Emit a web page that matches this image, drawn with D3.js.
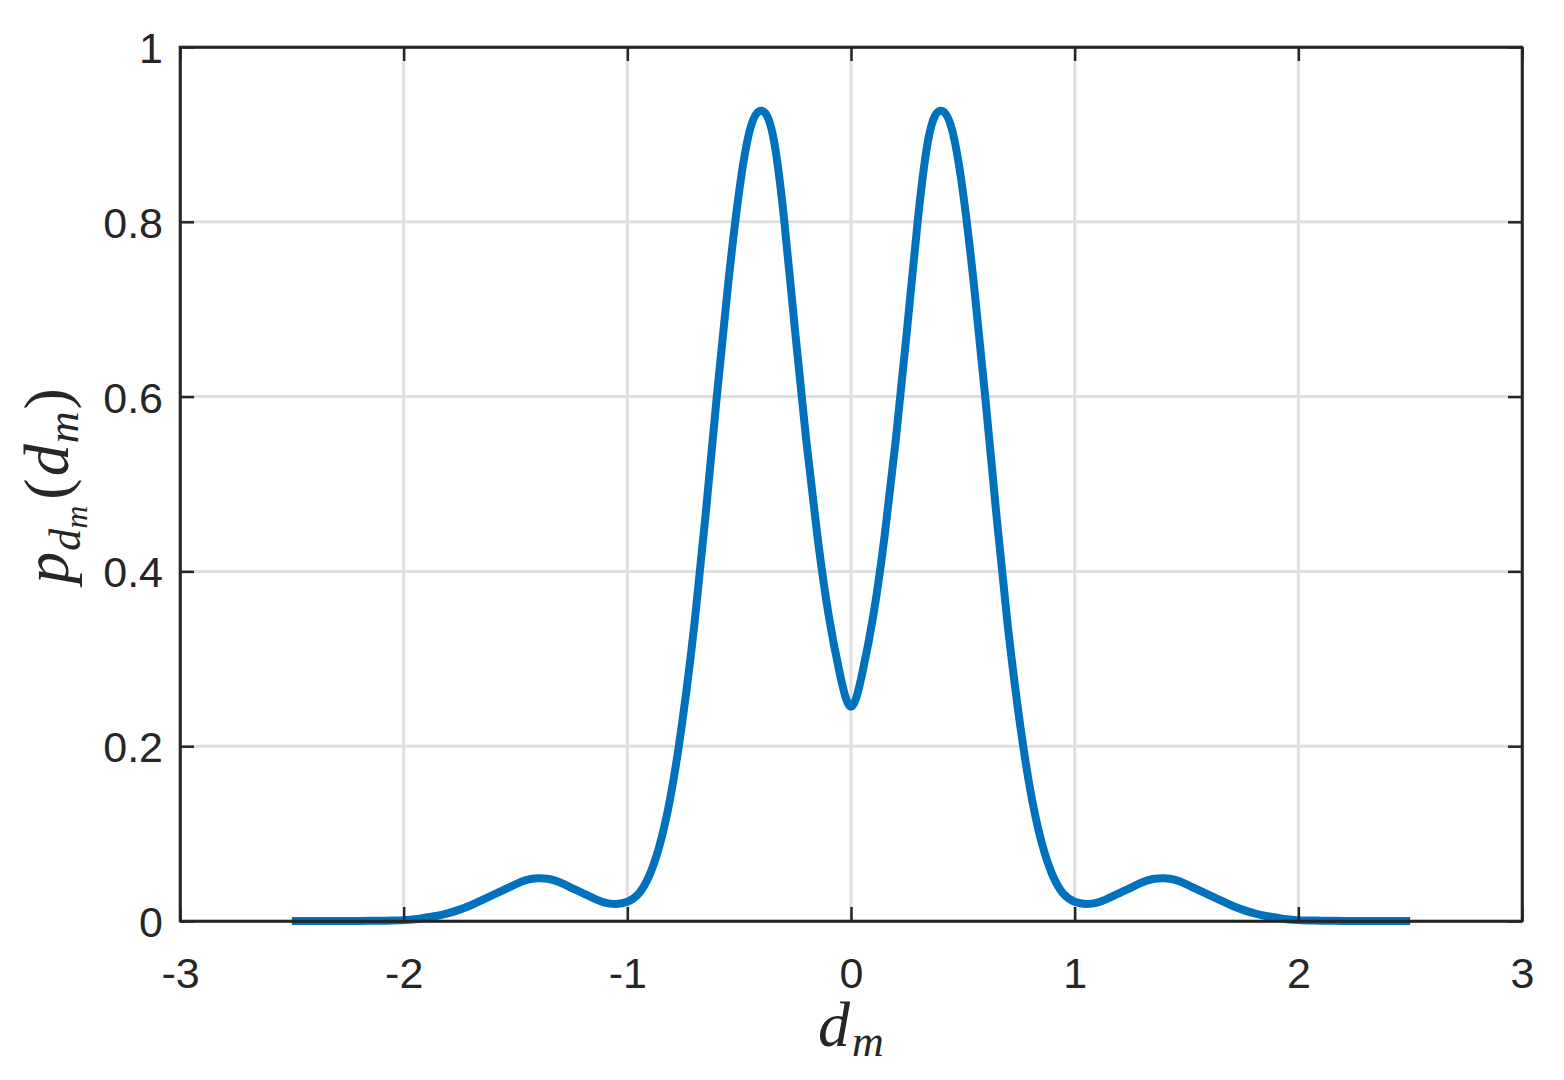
<!DOCTYPE html>
<html>
<head>
<meta charset="utf-8">
<script src="https://cdn.jsdelivr.net/npm/d3@7"></script>
<style>
  html, body { margin: 0; padding: 0; background: #ffffff; }
  svg { display: block; }
</style>
</head>
<body>
<svg id="chart" width="1564" height="1080"></svg>
<script>
// ---- data ----
const dmValues = [
  -2.5, -2.45, -2.4, -2.35, -2.3, -2.25, -2.2, -2.15, -2.1, -2.05,
  -2.0, -1.95, -1.9, -1.85, -1.8, -1.75, -1.7, -1.65, -1.6, -1.55,
  -1.5, -1.45, -1.4, -1.35, -1.3, -1.25, -1.2, -1.15, -1.1, -1.05,
  -1.0, -0.95, -0.9, -0.85, -0.8, -0.75, -0.7, -0.65, -0.6, -0.55,
  -0.5, -0.45, -0.4, -0.35, -0.3, -0.25, -0.2, -0.15, -0.1, -0.05,
  0,
  0.05, 0.1, 0.15, 0.2, 0.25, 0.3, 0.35, 0.4, 0.45, 0.5,
  0.55, 0.6, 0.65, 0.7, 0.75, 0.8, 0.85, 0.9, 0.95, 1.0,
  1.05, 1.1, 1.15, 1.2, 1.25, 1.3, 1.35, 1.4, 1.45, 1.5,
  1.55, 1.6, 1.65, 1.7, 1.75, 1.8, 1.85, 1.9, 1.95, 2.0,
  2.05, 2.1, 2.15, 2.2, 2.25, 2.3, 2.35, 2.4, 2.45, 2.5
];
const pdfValues = [
  0, 0, 0, 0, 0, 0, 0.0001, 0.0002, 0.0003, 0.0006,
  0.001, 0.002, 0.004, 0.006, 0.009, 0.013, 0.018, 0.024, 0.030, 0.036,
  0.042, 0.047, 0.049, 0.048, 0.044, 0.038, 0.032, 0.026, 0.021, 0.0195,
  0.022, 0.031, 0.053, 0.092, 0.152, 0.236, 0.340, 0.465, 0.600, 0.727,
  0.835, 0.907, 0.927, 0.900, 0.805, 0.675, 0.550, 0.440, 0.350, 0.283,
  0.245,
  0.283, 0.350, 0.440, 0.550, 0.675, 0.805, 0.900, 0.927, 0.907, 0.835,
  0.727, 0.600, 0.465, 0.340, 0.236, 0.152, 0.092, 0.053, 0.031, 0.022,
  0.0195, 0.021, 0.026, 0.032, 0.038, 0.044, 0.048, 0.049, 0.047, 0.042,
  0.036, 0.030, 0.024, 0.018, 0.013, 0.009, 0.006, 0.004, 0.002, 0.001,
  0.0006, 0.0003, 0.0002, 0.0001, 0, 0, 0, 0, 0, 0
];
const xTicks = [-3, -2, -1, 0, 1, 2, 3];
const xTickLabels = ["-3", "-2", "-1", "0", "1", "2", "3"];
const yTicks = [0, 0.2, 0.4, 0.6, 0.8, 1];
const yTickLabels = ["0", "0.2", "0.4", "0.6", "0.8", "1"];

// ---- layout ----
const plot = { left: 180, right: 1522, top: 47, bottom: 921 };
const svg = d3.select("#chart");
const axisColor = "#262626";

const x = d3.scaleLinear().domain([-3, 3]).range([plot.left, plot.right]);
const y = d3.scaleLinear().domain([0, 1]).range([plot.bottom, plot.top]);

// grid
const grid = svg.append("g");
grid.selectAll("line.gx").data(xTicks).join("line")
  .attr("x1", d => x(d)).attr("x2", d => x(d))
  .attr("y1", plot.top).attr("y2", plot.bottom)
  .attr("stroke", "#dfdfdf").attr("stroke-width", 3);
grid.selectAll("line.gy").data(yTicks).join("line")
  .attr("x1", plot.left).attr("x2", plot.right)
  .attr("y1", d => y(d)).attr("y2", d => y(d))
  .attr("stroke", "#dfdfdf").attr("stroke-width", 3);

// curve
const pts = dmValues.map((d, i) => [d, pdfValues[i]]);
const line = d3.line().x(d => x(d[0])).y(d => y(d[1])).curve(d3.curveNatural);
svg.append("path").datum(pts)
  .attr("d", line)
  .attr("fill", "none")
  .attr("stroke", "#0072BD")
  .attr("stroke-width", 8)
  .attr("stroke-linejoin", "round");

// axes (ticks inside, box on)
const tickLen = 14;
const fontTick = "'Liberation Sans', Arial, Helvetica, sans-serif";

const xAxisB = d3.axisBottom(x).tickValues(xTicks).tickSizeInner(-tickLen).tickSizeOuter(0)
  .tickFormat((d, i) => xTickLabels[i]);
const gxb = svg.append("g").attr("transform", `translate(0,${plot.bottom})`).call(xAxisB);

const xAxisT = d3.axisTop(x).tickValues(xTicks).tickSizeInner(-tickLen).tickSizeOuter(0).tickFormat("");
const gxt = svg.append("g").attr("transform", `translate(0,${plot.top})`).call(xAxisT);

const yAxisL = d3.axisLeft(y).tickValues(yTicks).tickSizeInner(-tickLen).tickSizeOuter(0)
  .tickFormat((d, i) => yTickLabels[i]);
const gyl = svg.append("g").attr("transform", `translate(${plot.left},0)`).call(yAxisL);

const yAxisR = d3.axisRight(y).tickValues(yTicks).tickSizeInner(-tickLen).tickSizeOuter(0).tickFormat("");
const gyr = svg.append("g").attr("transform", `translate(${plot.right},0)`).call(yAxisR);

[gxb, gxt, gyl, gyr].forEach(g => {
  g.select(".domain").attr("stroke", axisColor).attr("stroke-width", 2.5);
  g.selectAll(".tick line").attr("stroke", axisColor).attr("stroke-width", 2.5);
  g.selectAll(".tick text")
    .attr("fill", axisColor)
    .style("font-family", fontTick)
    .style("font-size", "43px");
});
gxb.selectAll(".tick text").attr("dy", "0.71em").attr("y", 36);
gyl.selectAll(".tick text").attr("dy", "0.36em").attr("x", -17);

// box
svg.append("rect")
  .attr("x", plot.left).attr("y", plot.top)
  .attr("width", plot.right - plot.left).attr("height", plot.bottom - plot.top)
  .attr("fill", "none").attr("stroke", axisColor).attr("stroke-width", 2.5);

// axis labels (math italic)
const fontMath = "'Liberation Serif', 'DejaVu Serif', serif";
const xl = svg.append("text")
  .attr("x", 851).attr("y", 1046)
  .attr("text-anchor", "middle")
  .attr("fill", axisColor)
  .style("font-family", fontMath).style("font-style", "italic").style("font-size", "64px");
xl.append("tspan").text("d");
xl.append("tspan").attr("dy", 10).attr("dx", 2).style("font-size", "44px").text("m");

const yl = svg.append("text")
  .attr("transform", "translate(68,486) rotate(-90)")
  .attr("text-anchor", "middle")
  .attr("fill", axisColor)
  .style("font-family", fontMath).style("font-style", "italic").style("font-size", "64px");
yl.append("tspan").text("p");
yl.append("tspan").attr("dy", 12).attr("dx", 1).style("font-size", "44px").text("d");
yl.append("tspan").attr("dy", 7).style("font-size", "32px").text("m");
yl.append("tspan").attr("dy", -19).attr("dx", 6).style("font-style", "normal").text("(");
yl.append("tspan").attr("dx", 2).text("d");
yl.append("tspan").attr("dy", 10).attr("dx", 1).style("font-size", "44px").text("m");
yl.append("tspan").attr("dy", -10).attr("dx", 2).style("font-style", "normal").text(")");
</script>
</body>
</html>
